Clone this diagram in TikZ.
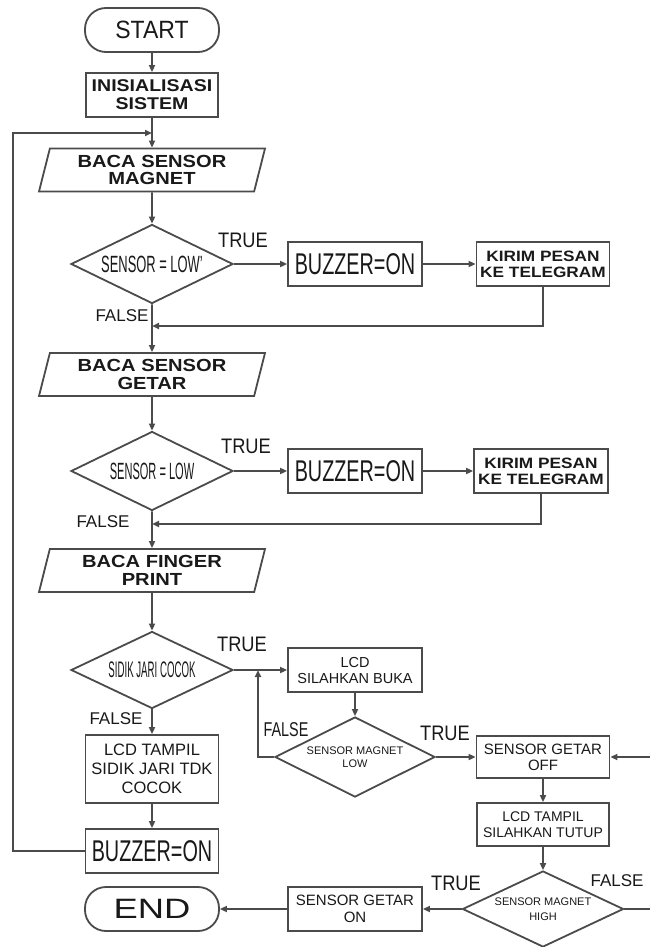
\documentclass[tikz,border=0pt]{standalone}
\usepackage{fontspec}
\setmainfont{Liberation Sans}
\newfontfamily\fwide{Liberation Sans Bold}[FakeStretch=1.15]
\usetikzlibrary{shapes.geometric,arrows.meta}
\definecolor{lc}{RGB}{75,75,75}
\definecolor{tc}{RGB}{25,25,25}
\newcommand{\fs}[2]{\fontsize{#1pt}{#2pt}\selectfont}
\newcommand{\sx}[2]{\scalebox{#1}[1]{#2}}
\begin{document}
\begin{tikzpicture}[x=1pt,y=-1pt,
 base/.style={draw=lc, line width=1.8pt, inner sep=0pt, align=center, text=tc},
 proc/.style={base, rectangle, minimum width=134pt, minimum height=44pt},
 term/.style={base, rectangle, rounded corners=21pt, minimum width=134pt, minimum height=44pt},
 dec/.style={base, diamond, aspect=2.05, minimum width=162pt, minimum height=79pt},
 io/.style={base, trapezium, trapezium left angle=70, trapezium right angle=110, trapezium stretches body, minimum width=226pt, minimum height=43pt},
 arr/.style={draw=lc, line width=1.8pt, -{Triangle[length=7pt,width=6pt]}},
 tl/.style={text=tc, inner sep=0pt, font=\fs{21}{21}},
 fl/.style={text=tc, inner sep=0pt, font=\fs{17}{17}},
]
\useasboundingbox (0,0) rectangle (650,947);
\fill[white] (0,0) rectangle (650,947);

% nodes
\node[term, font=\fs{25}{25}] (start) at (152,30) {\sx{0.92}{START}};
\node[proc, minimum width=132pt, font=\fwide\fs{17}{18}] (init) at (152,95) {INISIALISASI\\SISTEM};
\node[io, font=\fwide\fs{17.5}{17.5}] (mag) at (152,170) {BACA SENSOR\\MAGNET};
\node[dec, font=\fs{23.5}{23.5}] (d1) at (152,264) {\sx{0.55}{SENSOR = LOW’}};
\node[proc, font=\fs{30}{30}] (b1) at (355,264) {\sx{0.66}{BUZZER=ON}};
\node[proc, minimum width=133pt, font=\fwide\fs{15}{16}] (k1) at (543,264) {KIRIM PESAN\\KE TELEGRAM};
\node[io, font=\fwide\fs{17.5}{17.5}] (get) at (152,374.5) {BACA SENSOR\\GETAR};
\node[dec, font=\fs{23.5}{23.5}] (d2) at (152,471) {\sx{0.47}{SENSOR = LOW}};
\node[proc, font=\fs{30}{30}] (b2) at (355,471) {\sx{0.66}{BUZZER=ON}};
\node[proc, font=\fwide\fs{15}{16}] (k2) at (541,471) {KIRIM PESAN\\KE TELEGRAM};
\node[io, font=\fwide\fs{17.5}{17.5}] (fin) at (152,570.5) {BACA FINGER\\PRINT};
\node[dec, minimum height=77pt, font=\fs{22.5}{22.5}] (d3) at (152,670) {\sx{0.43}{SIDIK JARI COCOK}};
\node[proc, font=\fs{14.5}{16}] (lcd1) at (355,670) {LCD\\SILAHKAN BUKA};
\node[proc, minimum width=133pt, minimum height=68pt, font=\fs{16.5}{19}] (lcdt) at (152,769) {LCD TAMPIL\\SIDIK JARI TDK\\COCOK};
\node[proc, minimum width=133pt, font=\fs{30}{30}] (b3) at (152,851) {\sx{0.66}{BUZZER=ON}};
\node[dec, minimum width=160pt, minimum height=80pt, font=\fs{11}{13}] (d4) at (355,757) {SENSOR MAGNET\\LOW};
\node[proc, minimum width=133pt, minimum height=42pt, font=\fs{15}{16}] (goff) at (543,757) {SENSOR GETAR\\OFF};
\node[proc, minimum width=132pt, minimum height=43pt, font=\fs{14}{16}] (tutup) at (543,824.5) {LCD TAMPIL\\SILAHKAN TUTUP};
\node[dec, minimum width=161pt, minimum height=76pt, font=\fs{11}{15}] (d5) at (543,909) {SENSOR MAGNET\\HIGH};
\node[proc, font=\fs{15}{17}] (gon) at (355,909) {SENSOR GETAR\\ON};
\node[term, font=\fs{28}{28}] (end) at (152,909) {\sx{1.3}{END}};

% labels
\node[tl] (t1) at (243,240) {\sx{0.87}{TRUE}};
\node[fl] (f1) at (122,316) {FALSE};
\node[tl] (t2) at (246,446) {\sx{0.87}{TRUE}};
\node[fl] (f2) at (103,522) {FALSE};
\node[tl] (t3) at (242,644) {\sx{0.87}{TRUE}};
\node[fl] (f3) at (116,719) {FALSE};
\node[tl, font=\fs{20}{20}] (f4) at (286,730) {\sx{0.72}{FALSE}};
\node[tl] (t4) at (445,733) {\sx{0.87}{TRUE}};
\node[tl] (t5) at (456,883) {\sx{0.87}{TRUE}};
\node[fl] (f5) at (617,881) {FALSE};

% junctions
\coordinate (j0) at (152,133);
\coordinate (lp) at (13,133);
\coordinate (j1) at (152,326);
\coordinate (j2) at (152,524);
\coordinate (j3) at (258,670);
\coordinate (rr) at (662,909);

% connectors
\draw[arr] (start) -- (init);
\draw[arr] (init) -- (mag);
\draw[arr] (b3.west) -| (lp) -- (j0);
\draw[arr] (mag) -- (d1);
\draw[arr] (d1) -- (b1);
\draw[arr] (b1) -- (k1);
\draw[arr] (k1.south) |- (j1);
\draw[arr] (d1) -- (get);
\draw[arr] (get) -- (d2);
\draw[arr] (d2) -- (b2);
\draw[arr] (b2) -- (k2);
\draw[arr] (k2.south) |- (j2);
\draw[arr] (d2) -- (fin);
\draw[arr] (fin) -- (d3);
\draw[arr] (d3) -- (lcd1);
\draw[arr] (d3) -- (lcdt);
\draw[arr] (lcdt) -- (b3);
\draw[arr] (lcd1) -- (d4);
\draw[arr] (d4.west) -| (j3);
\draw[arr] (d4) -- (goff);
\draw[arr] (goff) -- (tutup);
\draw[arr] (tutup) -- (d5);
\draw[arr] (d5) -- (gon);
\draw[arr] (gon) -- (end);
\draw[arr] (d5.east) -- (rr) |- (goff.east);
\end{tikzpicture}
\end{document}
